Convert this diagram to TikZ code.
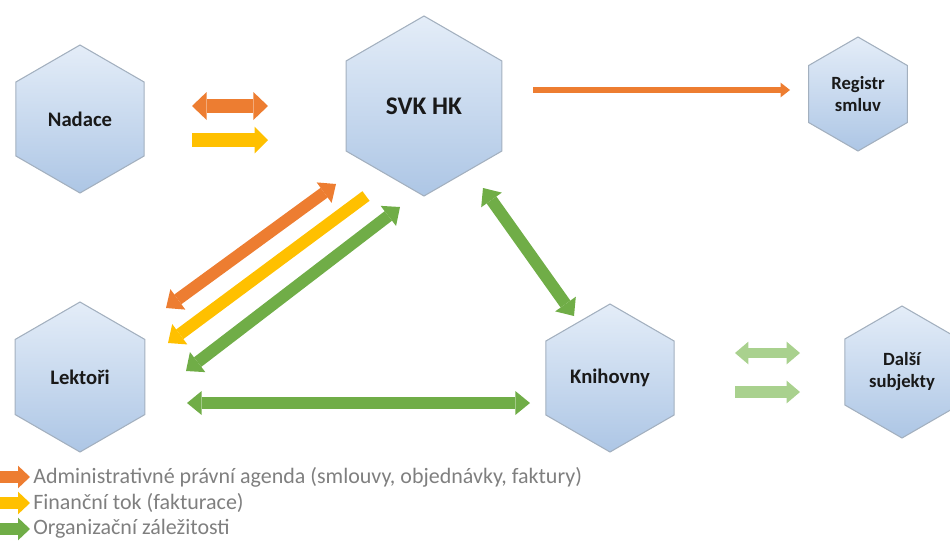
\documentclass[tikz,border=0pt]{standalone}
\usepackage{fontspec}
\setmainfont{Carlito}
\usetikzlibrary{shapes.geometric,arrows.meta}
\definecolor{hexTop}{HTML}{E4EDF8}
\definecolor{hexBot}{HTML}{ADC6E5}
\definecolor{hexLine}{HTML}{A3B0BF}
\definecolor{cOrange}{HTML}{ED7D31}
\definecolor{cYellow}{HTML}{FFC000}
\definecolor{cGreen}{HTML}{70AD47}
\definecolor{cPale}{HTML}{A9D18E}
\definecolor{legendGray}{HTML}{7F7F7F}
\tikzset{
  hexnode/.style={regular polygon, regular polygon sides=6, shape border rotate=90,
    minimum size=#1, inner sep=0pt, top color=hexTop, bottom color=hexBot,
    draw=hexLine, line width=0.8pt, font=\bfseries, text=black!90, align=center},
  fatR/.style n args={3}{line width=#1, line cap=butt,
    -{Triangle[length=#2,width=#3,line width=0pt]}},
  fatLR/.style n args={3}{line width=#1, line cap=butt,
    {Triangle[length=#2,width=#3,line width=0pt]}-{Triangle[length=#2,width=#3,line width=0pt]}},
  legtext/.style={anchor=west, text=legendGray, font=\fontsize{16.5pt}{19pt}\selectfont, inner sep=0pt}
}
\begin{document}
\begin{tikzpicture}[x=0.75pt,y=-0.75pt]
\useasboundingbox (0,0) rectangle (950,540);
% hexagons
\node[hexnode=111pt, font=\bfseries\fontsize{15.5pt}{18pt}\selectfont] (nadace) at (80,119) {Nadace};
\node[hexnode=135pt, font=\bfseries\fontsize{19pt}{22pt}\selectfont] (svk) at (424,106) {SVK HK};
\node[hexnode=85.5pt, font=\bfseries\fontsize{14pt}{16.5pt}\selectfont] (registr) at (858,94) {Registr\\smluv};
\node[hexnode=112.5pt, font=\bfseries\fontsize{15.5pt}{18pt}\selectfont] (lektori) at (80,377) {Lektoři};
\node[hexnode=111pt, font=\bfseries\fontsize{15.5pt}{18pt}\selectfont] (knihovny) at (610,378) {Knihovny};
\node[hexnode=99pt, font=\bfseries\fontsize{14pt}{16.5pt}\selectfont] (dalsi) at (902,372) {Další\\subjekty};
% arrow end points
\coordinate (nsA) at (192,106); \coordinate (nsB) at (268,106);
\coordinate (nsC) at (192,140); \coordinate (nsD) at (268,140);
\coordinate (srA) at (533,90);  \coordinate (srB) at (790,90);
\coordinate (loA) at (166,308); \coordinate (loB) at (336,184);
\coordinate (lyA) at (366,196); \coordinate (lyB) at (168,343);
\coordinate (lgA) at (186,371); \coordinate (lgB) at (400,207);
\coordinate (skA) at (483,188); \coordinate (skB) at (574,316);
\coordinate (lkA) at (187,403); \coordinate (lkB) at (530,403);
\coordinate (kdA) at (735,353); \coordinate (kdB) at (800,353);
\coordinate (kdC) at (735,392); \coordinate (kdD) at (800,392);
\coordinate (lg1A) at (-10,477); \coordinate (lg1B) at (30,477);
\coordinate (lg2A) at (-10,503); \coordinate (lg2B) at (30,503);
\coordinate (lg3A) at (-10,529); \coordinate (lg3B) at (30,529);
% arrows
\draw[cOrange, fatLR={11pt}{11pt}{21pt}] (nsA) -- (nsB);
\draw[cYellow, fatR={10pt}{10pt}{20pt}] (nsC) -- (nsD);
\draw[cOrange, fatR={5pt}{7pt}{11pt}] (srA) -- (srB);
\draw[cOrange, fatLR={9pt}{11pt}{19pt}] (loA) -- (loB);
\draw[cYellow, fatR={9pt}{11pt}{19pt}] (lyA) -- (lyB);
\draw[cGreen, fatLR={9pt}{11pt}{19pt}] (lgA) -- (lgB);
\draw[cGreen, fatLR={9pt}{11pt}{19pt}] (skA) -- (skB);
\draw[cGreen, fatLR={9.5pt}{11pt}{18pt}] (lkA) -- (lkB);
\draw[cPale, fatLR={8pt}{10pt}{17pt}] (kdA) -- (kdB);
\draw[cPale, fatR={9pt}{10pt}{17pt}] (kdC) -- (kdD);
% legend
\draw[cOrange, fatR={9pt}{9pt}{17pt}] (lg1A) -- (lg1B);
\draw[cYellow, fatR={9pt}{9pt}{17pt}] (lg2A) -- (lg2B);
\draw[cGreen, fatR={9pt}{9pt}{17pt}] (lg3A) -- (lg3B);
\node[legtext] (leg1) at (33,477) {Administrativné právní agenda (smlouvy, objednávky, faktury)};
\node[legtext] (leg2) at (33,503) {Finanční tok (fakturace)};
\node[legtext] (leg3) at (33,529) {Organizační záležitosti};
\end{tikzpicture}
\end{document}
